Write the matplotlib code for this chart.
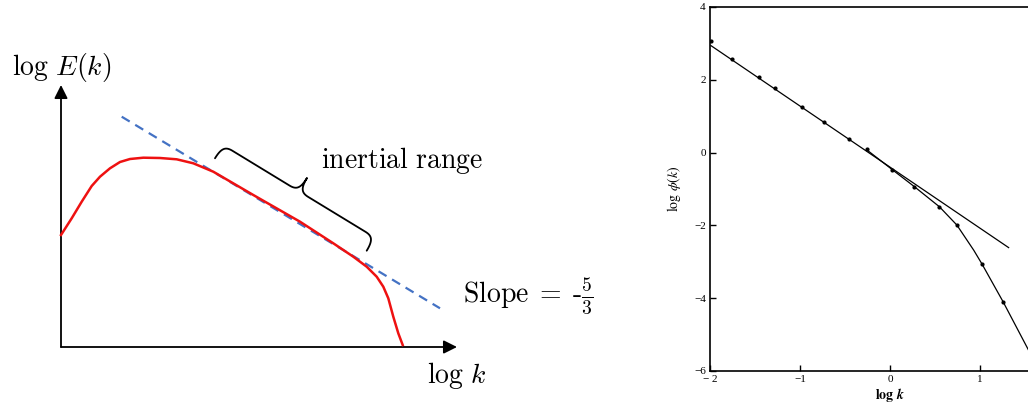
import numpy as np
import matplotlib
matplotlib.use("Agg")
import matplotlib.pyplot as plt

# ---- left: schematic energy spectrum (arbitrary units) ----
spec_x = [0.0, 0.107, 0.207, 0.307, 0.39, 0.49, 0.59, 0.69, 0.823, 0.99, 1.157,
          1.323, 1.523, 1.923, 2.39, 2.723, 2.923, 3.057, 3.157, 3.223, 3.273,
          3.323, 3.373, 3.417]
spec_y = [1.12, 1.287, 1.453, 1.61, 1.703, 1.787, 1.85, 1.88, 1.893, 1.89, 1.877,
          1.837, 1.753, 1.52, 1.253, 1.037, 0.903, 0.803, 0.703, 0.603, 0.487,
          0.303, 0.137, 0.02]
slope_x = [0.607, 3.79]
slope_y = [2.303, 0.387]
brace_start = (1.54, 1.887)
brace_end = (3.057, 0.963)
brace_depth = 0.155

# ---- right: measured spectrum log phi(k) vs log k ----
meas_logk = [-1.99, -1.755, -1.457, -1.275, -0.974, -0.736, -0.454, -0.26,
             0.026, 0.268, 0.55, 0.743, 1.022, 1.257]
meas_logphi = [3.06, 2.57, 2.07, 1.77, 1.24, 0.83, 0.38, 0.09,
               -0.48, -0.94, -1.49, -1.99, -3.06, -4.10]
fit_logk = [-1.99, 1.318]
fit_logphi = [2.94, -2.61]
curve_logk = [-0.26, 0.026, 0.268, 0.55, 0.743, 0.93, 1.022, 1.257, 1.54, 1.6]
curve_logphi = [0.08, -0.47, -0.93, -1.49, -1.99, -2.68, -3.06, -4.10, -5.43, -5.72]
xticks = [-2, -1, 0, 1]
xticklabels = ["\u2212 2", "\u22121", "0", "1"]
yticks = [-6, -4, -2, 0, 2, 4]
yticklabels = ["\u22126", "\u22124", "\u22122", "0", "2", "4"]


def bezier(p0, p1, p2, p3, n=30):
    t = np.linspace(0, 1, n)[:, None]
    p0, p1, p2, p3 = map(np.asarray, (p0, p1, p2, p3))
    return ((1 - t) ** 3) * p0 + 3 * ((1 - t) ** 2) * t * p1 + 3 * (1 - t) * t ** 2 * p2 + t ** 3 * p3


def brace_points(a, b, h, q=0.11):
    a = np.asarray(a); b = np.asarray(b)
    L = np.linalg.norm(b - a)
    t = (b - a) / L
    n = np.array([-t[1], t[0]])
    m = L / 2
    segs = [
        bezier((0, 0), (0, 0.8 * h), (0.3 * q, h), (q, h)),
        np.array([(q, h), (m - q, h)]),
        bezier((m - q, h), (m - 0.3 * q, h), (m, 1.2 * h), (m, 2 * h)),
        bezier((m, 2 * h), (m, 1.2 * h), (m + 0.3 * q, h), (m + q, h)),
        np.array([(m + q, h), (L - q, h)]),
        bezier((L - q, h), (L - 0.3 * q, h), (L, 0.8 * h), (L, 0)),
    ]
    uv = np.vstack(segs)
    return a + uv[:, :1] * t + uv[:, 1:] * n


fig = plt.figure(figsize=(10.28, 4.04), dpi=100)

# left panel
ax1 = fig.add_axes([0, 0, 660 / 1028, 1])
ax1.set_xlim(-0.61, 5.99)
ax1.set_ylim(-0.57, 3.47)
ax1.axis("off")

arrow_kw = dict(arrowstyle="-|>", lw=1.3, color="black", mutation_scale=20,
                shrinkA=0, shrinkB=0)
ax1.annotate("", xy=(0, 2.62), xytext=(0, 0), arrowprops=arrow_kw)
ax1.annotate("", xy=(3.96, 0), xytext=(0, 0), arrowprops=arrow_kw)

ax1.plot(slope_x, slope_y, color="#4472c4", lw=1.6, dashes=(4.2, 2.9), zorder=2)
ax1.plot(spec_x, spec_y, color="#ee1111", lw=1.8, zorder=3)

bp = brace_points(brace_start, brace_end, brace_depth)
ax1.plot(bp[:, 0], bp[:, 1], color="black", lw=1.3, solid_capstyle="round")

cm = dict(math_fontfamily="cm", fontsize=20, va="baseline", ha="left")
ax1.text(-0.49, 2.72, r"$\log\,E(k)$", **cm)
ax1.text(2.597, 1.79, r"$\mathrm{inertial\ range}$", **cm)
ax1.text(4.02, 0.45, r"$\mathrm{Slope}\;=\;\text{-}\frac{5}{3}$", **cm)
ax1.text(3.66, -0.36, r"$\log\,k$", **cm)

# right panel
ax2 = fig.add_axes([710 / 1028, 33 / 404, 360 / 1028, 364 / 404])
ax2.set_xlim(-2, 2)
ax2.set_ylim(-6, 4)
ax2.plot(fit_logk, fit_logphi, color="black", lw=0.9)
ax2.plot(curve_logk, curve_logphi, color="black", lw=0.9)
ax2.plot(meas_logk, meas_logphi, "o", color="black", markersize=2.0)

for s in ["left", "bottom", "top", "right"]:
    ax2.spines[s].set_linewidth(1.2)
ax2.set_xticks(xticks)
ax2.set_xticklabels(xticklabels)
ax2.set_yticks(yticks)
ax2.set_yticklabels(yticklabels)
ax2.tick_params(direction="in", length=4, width=1, labelsize=8, pad=3)
for lab in ax2.get_xticklabels() + ax2.get_yticklabels():
    lab.set_family("Liberation Serif")
ax2.set_xlabel(r"$\mathbf{log}\ \boldsymbol{k}$", math_fontfamily="stix",
               fontsize=10, labelpad=1)
ax2.set_ylabel(r"$\log\,\phi(k)$", math_fontfamily="stix", fontsize=10,
               labelpad=8)

fig.savefig("out.png", dpi=100)
